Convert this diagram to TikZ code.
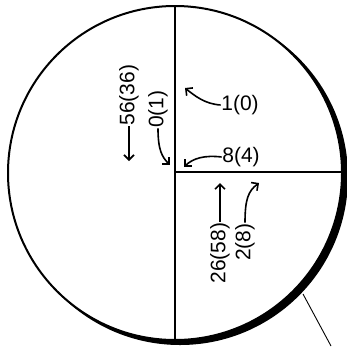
\documentclass[tikz,border=0pt]{standalone}
\usepackage{fontspec}
\setmainfont{Liberation Sans}
\usetikzlibrary{arrows.meta}
\begin{document}
\begin{tikzpicture}[x=1pt,y=-1pt,
  lbl/.style={font=\fontsize{21}{21}\selectfont, inner sep=0.5pt},
  arr/.style={line width=1.6pt,-{Straight Barb[length=5pt,width=10pt]}},
  wall/.style={line width=2pt},
  tick/.style={line width=0.9pt}]
\useasboundingbox (0,0) rectangle (347,346);
\coordinate (c) at (175,173);
% thick crescent on the lower right
\fill (180,177) circle[radius=168];
\fill[white] (c) circle[radius=167];
\draw[wall] (c) circle[radius=167];
% partition lines
\coordinate (top) at (175,6);
\coordinate (bot) at (175,340);
\coordinate (junc) at (175,172);
\coordinate (rgt) at (342,172);
\draw[wall] (top) -- (bot);
\draw[wall] (junc) -- (rgt);
% pointer line
\coordinate (p1) at (303,294);
\coordinate (p2) at (331,346);
\draw[tick] (p1) -- (p2);
% labels
\node[lbl,rotate=90] (n56) at (129,95) {56(36)};
\node[lbl,rotate=90] (n01) at (158,109) {0(1)};
\node[lbl] (n10) at (240,105) {1(0)};
\node[lbl] (n84) at (241,157) {8(4)};
\node[lbl,rotate=90] (n26) at (220,253) {26(58)};
\node[lbl,rotate=90] (n28) at (245,242) {2(8)};
% arrow heads
\coordinate (h56) at (129,161);
\coordinate (h01) at (170,165);
\coordinate (h10) at (185,88);
\coordinate (h84) at (184,167);
\coordinate (h26) at (220,183);
\coordinate (h28) at (259,183);
\draw[arr] (n56.west) -- (h56);
\draw[arr] (n01.west) .. controls (158,150) and (162,157) .. (h01);
\draw[arr] (n10.west) .. controls (205,104) and (195,96) .. (h10);
\draw[arr] (n84.west) .. controls (205,155) and (193,158) .. (h84);
\draw[arr] (n26.east) -- (h26);
\draw[arr] (n28.east) .. controls (245,200) and (248,191) .. (h28);
\end{tikzpicture}
\end{document}
